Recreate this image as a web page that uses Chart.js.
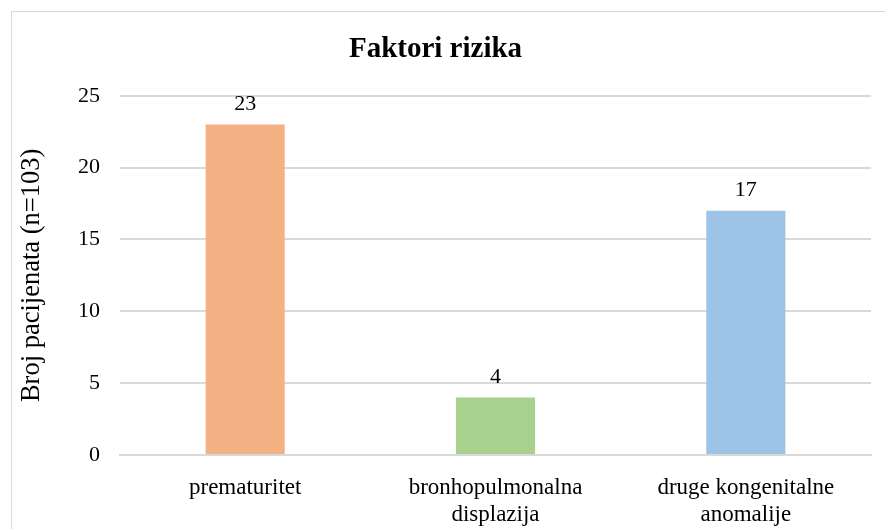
<!DOCTYPE html>
<html>
<head>
<meta charset="utf-8">
<script src="https://cdn.jsdelivr.net/npm/chart.js@4/dist/chart.umd.min.js"></script>
<style>
    html, body { margin: 0; padding: 0; background: #fff; }
    #wrap { position: relative; width: 885px; height: 529px; overflow: hidden; }
    #frame { position: absolute; left: 11px; top: 11px; width: 900px; height: 560px; border: 1.5px solid #d9d9d9; }
    canvas { position: absolute; left: 0; top: 0; }
</style>
</head>
<body>
<div id="wrap">
    <div id="frame"></div>
    <canvas id="chart" width="885" height="529"></canvas>
</div>
<script>
// data
var categories = [['prematuritet'], ['bronhopulmonalna', 'displazija'], ['druge kongenitalne', 'anomalije']];
var values = [23, 4, 17];
var barColors = ['#F4B183', '#A9D18E', '#9DC3E6'];
var yTicks = [0, 5, 10, 15, 20, 25];

var serif = '"Liberation Serif", "Times New Roman", serif';

// value labels above bars
var valueLabels = {
    id: 'valueLabels',
    afterDatasetsDraw: function (chart) {
        var ctx = chart.ctx;
        var meta = chart.getDatasetMeta(0);
        ctx.save();
        ctx.font = '22px ' + serif;
        ctx.fillStyle = '#000';
        ctx.textAlign = 'center';
        ctx.textBaseline = 'alphabetic';
        meta.data.forEach(function (bar, i) {
            ctx.fillText(values[i], bar.x, bar.y - 15);
        });
        ctx.restore();
    }
};

new Chart(document.getElementById('chart'), {
    type: 'bar',
    data: {
        labels: categories,
        datasets: [{
            data: values,
            backgroundColor: barColors,
            barPercentage: 0.316,
            categoryPercentage: 1
        }]
    },
    options: {
        responsive: false,
        animation: false,
        layout: { padding: { left: 0, right: 14, top: 0, bottom: 0 } },
        plugins: {
            legend: { display: false },
            tooltip: { enabled: false },
            title: {
                display: true,
                text: 'Faktori rizika',
                color: '#000',
                font: { family: serif, size: 29, weight: 'bold' },
                padding: { top: 32, bottom: 29 }
            }
        },
        scales: {
            x: {
                grid: { display: false, drawTicks: false },
                border: { display: true, color: '#d9d9d9', width: 2 },
                ticks: {
                    color: '#000',
                    font: { family: serif, size: 23 },
                    maxRotation: 0,
                    padding: 19
                },
                afterFit: function (s) { s.height = 74; }
            },
            y: {
                min: 0,
                max: 25,
                afterBuildTicks: function (s) {
                    s.ticks = yTicks.map(function (v) { return { value: v }; });
                },
                grid: { color: '#d9d9d9', lineWidth: 2, drawTicks: false },
                border: { display: false },
                ticks: {
                    color: '#000',
                    font: { family: serif, size: 22 },
                    padding: 20
                },
                title: {
                    display: true,
                    text: 'Broj pacijenata (n=103)',
                    color: '#000',
                    font: { family: serif, size: 26.5 },
                    padding: { top: 16, bottom: 0 }
                },
                afterFit: function (s) { s.width = 120; }
            }
        }
    },
    plugins: [valueLabels]
});
</script>
</body>
</html>
